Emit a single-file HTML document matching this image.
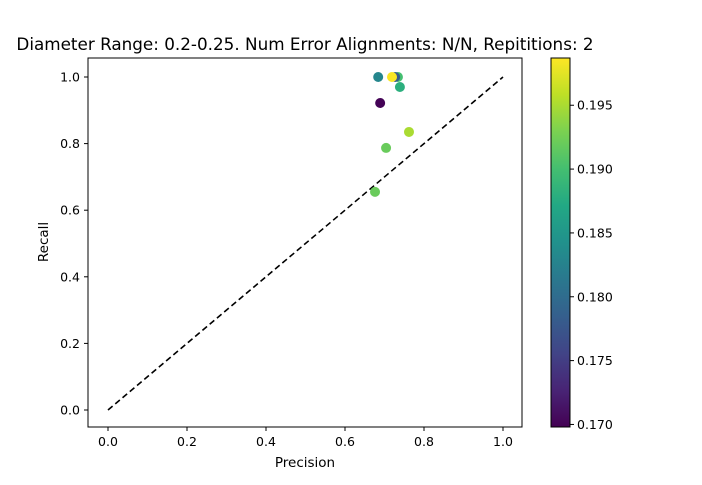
<!DOCTYPE html>
<html><head><meta charset="utf-8"><style>
body{margin:0;background:#fff}
svg text{font-family:"DejaVu Sans","Liberation Sans",sans-serif;fill:#000}
</style></head><body>
<svg id="chart" width="702" height="480" xmlns="http://www.w3.org/2000/svg">
<defs><linearGradient id="vir" x1="0" y1="1" x2="0" y2="0">
<stop offset="0" stop-color="#440154"/><stop offset="0.1" stop-color="#482475"/><stop offset="0.2" stop-color="#414487"/><stop offset="0.3" stop-color="#355f8d"/><stop offset="0.4" stop-color="#2a788e"/><stop offset="0.5" stop-color="#21918c"/><stop offset="0.6" stop-color="#22a884"/><stop offset="0.7" stop-color="#44bf70"/><stop offset="0.8" stop-color="#7ad151"/><stop offset="0.9" stop-color="#bddf26"/><stop offset="1" stop-color="#fde725"/>
</linearGradient></defs>
<text x="305" y="50" font-size="16.8" text-anchor="middle">Diameter Range: 0.2-0.25. Num Error Alignments: N/N, Repititions: 2</text>
<g id="plot"></g>
<rect x="88" y="58" width="434" height="369" fill="none" stroke="#000" stroke-width="1"/>
<text x="305" y="467" font-size="13.5" text-anchor="middle">Precision</text>
<text transform="translate(48,242) rotate(-90)" font-size="13.5" text-anchor="middle">Recall</text>
<rect x="551" y="58" width="19" height="369" fill="url(#vir)" stroke="#000" stroke-width="1"/>
<g id="cbar"></g>
</svg>
<script>
const precision=[0.734,0.727,0.719,0.684,0.739,0.689,0.762,0.704,0.676];
const recall=[1.0,1.0,1.0,1.0,0.970,0.922,0.835,0.787,0.655];
const diam=[0.190,0.178,0.1985,0.183,0.188,0.170,0.195,0.192,0.192];
const xTicks=[0,0.2,0.4,0.6,0.8,1.0];
const yTicks=[0,0.2,0.4,0.6,0.8,1.0];
const cTicks=[0.170,0.175,0.180,0.185,0.190,0.195];
const cMin=0.1698,cMax=0.1987;
const NS="http://www.w3.org/2000/svg";
const X=v=>108+v*395, Y=v=>410-v*333, CY=v=>427-(v-cMin)/(cMax-cMin)*369;
const vir=[[68,1,84],[72,36,117],[65,68,135],[53,95,141],[42,120,142],[33,145,140],[34,168,132],[68,191,112],[122,209,81],[189,223,38],[253,231,37]];
function col(v){let t=Math.max(0,Math.min(1,(v-cMin)/(cMax-cMin)))*10;let i=Math.min(9,Math.floor(t)),f=t-i;const a=vir[i],b=vir[i+1];return `rgb(${a.map((c,k)=>Math.round(c+(b[k]-c)*f)).join(',')})`;}
function mk(tag,attrs,parent){const e=document.createElementNS(NS,tag);for(const k in attrs)e.setAttribute(k,attrs[k]);parent.appendChild(e);return e;}
const plot=document.getElementById('plot'),cbar=document.getElementById('cbar');
xTicks.forEach(t=>{const l=mk('line',{x1:X(t),x2:X(t),y1:427,y2:431,stroke:'#000'},plot);


const tx=mk('text',{x:X(t),y:446,'font-size':12.5,'text-anchor':'middle'},plot);tx.textContent=t.toFixed(1);

});
yTicks.forEach(t=>{const l=mk('line',{x1:84,x2:88,y1:Y(t),y2:Y(t),stroke:'#000'},plot);


const tx=mk('text',{x:80,y:Y(t)+4.5,'font-size':12.5,'text-anchor':'end'},plot);tx.textContent=t.toFixed(1);

});
const d=mk('line',{x1:X(0),y1:Y(0),x2:X(1),y2:Y(1),stroke:'#000','stroke-width':1.6,'stroke-dasharray':'6,3.5'},plot);


precision.forEach((p,i)=>{const c=mk('circle',{cx:X(p),cy:Y(recall[i]),r:5,fill:col(diam[i])},plot);

});
cTicks.forEach(t=>{const l=mk('line',{x1:570,x2:574,y1:CY(t),y2:CY(t),stroke:'#000'},cbar);


const tx=mk('text',{x:577,y:CY(t)+4.5,'font-size':12.5},cbar);tx.textContent=t.toFixed(3);

});
</script>
</body></html>
